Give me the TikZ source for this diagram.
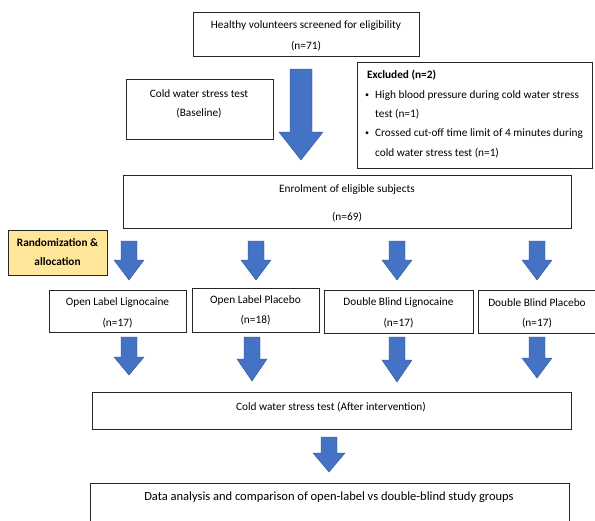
\documentclass[tikz,border=0pt]{standalone}
\usepackage{fontspec}
\setmainfont{Carlito}
\definecolor{arrblue}{HTML}{4472C4}
\definecolor{arredge}{HTML}{2F528F}
\definecolor{randfill}{HTML}{FFE699}
\newcommand{\bArrow}[6]{% x, ytop, yhead, ytip, shaft half width, head half width
  \fill[arrblue,draw=arredge,line width=0.4pt]
    (#1-#5,#2) -- (#1+#5,#2) -- (#1+#5,#3) -- (#1+#6,#3) -- (#1,#4)
    -- (#1-#6,#3) -- (#1-#5,#3) -- cycle;}
\begin{document}
\begin{tikzpicture}[x=1pt,y=-1pt,
  box/.style={draw=black!85,line width=0.7pt,fill=white,inner sep=0pt,anchor=north west},
  txt/.style={inner sep=0pt,font=\fontsize{11.3}{13}\selectfont},
  btxt/.style={inner sep=0pt,font=\fontsize{11.3}{13}\selectfont\bfseries},
  ltxt/.style={txt,anchor=west}]
\useasboundingbox (0,0) rectangle (595,520);
\clip (0,0) rectangle (595,520);
% top box
\node[box,minimum width=226pt,minimum height=44pt] (top) at (193,12) {};
\node[txt] (topa) at (306,26) {Healthy volunteers screened for eligibility};
\node[txt] (topb) at (306,46) {(n=71)};
% baseline
\node[box,minimum width=147pt,minimum height=60pt] (base) at (126,79) {};
\node[txt] (basea) at (199,94) {Cold water stress test};
\node[txt] (baseb) at (199,113) {(Baseline)};
% big arrow
\bArrow{301}{69}{132}{160}{11}{22}
% excluded
\node[box,minimum width=235pt,minimum height=106pt] (excl) at (357,62) {};
\node[btxt,anchor=west] (exa) at (367,75) {Excluded (n=2)};
\node[ltxt,font=\fontsize{8}{9}\selectfont] (exb0) at (365,96) {\textbullet};
\node[ltxt] (exb) at (375,96) {High blood pressure during cold water stress};
\node[ltxt] (exc) at (375,114) {test (n=1)};
\node[ltxt,font=\fontsize{8}{9}\selectfont] (exd0) at (365,134) {\textbullet};
\node[ltxt] (exd) at (375,134) {Crossed cut-off time limit of 4 minutes during};
\node[ltxt] (exe) at (375,153) {cold water stress test (n=1)};
% enrolment
\node[box,minimum width=448pt,minimum height=53pt] (enr) at (123,175) {};
\node[txt] (enra) at (347,190) {Enrolment of eligible subjects};
\node[txt] (enrb) at (347,217) {(n=69)};
% randomization
\node[box,fill=randfill,minimum width=99pt,minimum height=45pt] (rand) at (8,230) {};
\node[btxt] (randa) at (57.5,243) {Randomization \&};
\node[btxt] (randb) at (57.5,262) {allocation};
% arrows row 1
\bArrow{129}{241}{260}{280}{8}{15}
\bArrow{256}{241}{260}{280}{8}{15}
\bArrow{397}{241}{260}{280}{8}{15}
\bArrow{537}{241}{260}{280}{8}{15}
% group boxes
\node[box,minimum width=137pt,minimum height=42pt] (g1) at (49,290) {};
\node[txt] (g1a) at (117.5,303) {Open Label Lignocaine};
\node[txt] (g1b) at (117.5,323) {(n=17)};
\node[box,minimum width=127pt,minimum height=44pt] (g2) at (192,288) {};
\node[txt] (g2a) at (255.5,300) {Open Label Placebo};
\node[txt] (g2b) at (255.5,320) {(n=18)};
\node[box,minimum width=149pt,minimum height=43pt] (g3) at (324,290) {};
\node[txt] (g3a) at (398.5,303) {Double Blind Lignocaine};
\node[txt] (g3b) at (398.5,323) {(n=17)};
\node[box,minimum width=118pt,minimum height=43pt] (g4) at (478,290) {};
\node[txt] (g4a) at (537,303) {Double Blind Placebo};
\node[txt] (g4b) at (537,323) {(n=17)};
% arrows row 2
\bArrow{129}{337}{357}{375}{8}{15}
\bArrow{252}{337}{359}{381}{8}{15}
\bArrow{397}{337}{360}{382}{8}{15}
\bArrow{537}{337}{358}{378}{8}{15}
% after intervention
\node[box,minimum width=479pt,minimum height=37pt] (after) at (92,392) {};
\node[txt] (aftera) at (331,407) {Cold water stress test (After intervention)};
% arrow
\bArrow{329}{437}{453}{472}{8}{16}
% data analysis
\node[box,minimum width=479pt,minimum height=45pt] (data) at (90,483) {};
\node[txt,font=\fontsize{12.5}{14}\selectfont] (dataa) at (329,497) {Data analysis and comparison of open-label vs double-blind study groups};
\end{tikzpicture}
\end{document}
